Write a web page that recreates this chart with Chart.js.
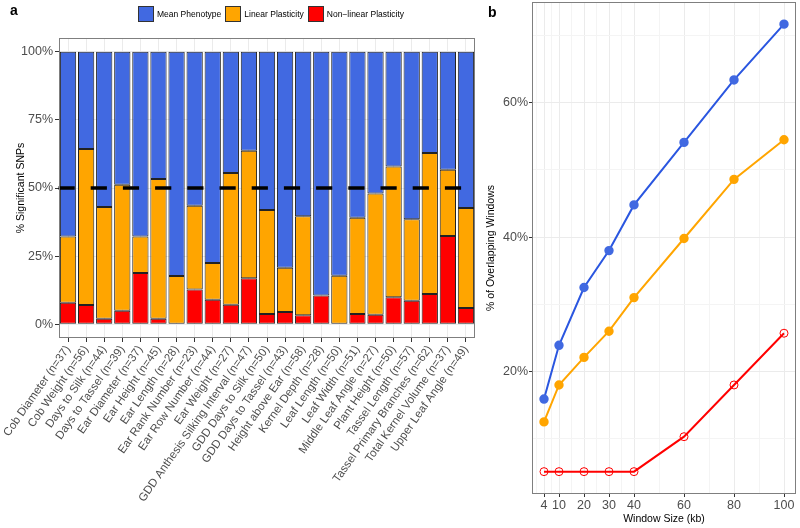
<!DOCTYPE html>
<html>
<head>
<meta charset="utf-8">
<script src="https://cdn.jsdelivr.net/npm/chart.js@4"></script>
<style>
  body { margin: 0; background: #fff; font-family: "Liberation Sans", Arial, sans-serif; }
  #wrap { position: relative; width: 800px; height: 528px; }
  canvas { position: absolute; top: 0; }
  #cA { left: 0; }
  #cB { left: 480px; }
  .tag { position: absolute; font-weight: bold; font-size: 14px; color: #000; }
  #legend { position: absolute; left: 138px; top: 6px; display: flex; align-items: center; font-size: 8.5px; color: #000; }
  #legend span.box { display: inline-block; width: 14px; height: 14px; border: 1px solid #333; margin-right: 3px; }
  #legend span.lab { margin-right: 4px; }
</style>
</head>
<body>
<div id="wrap">
  <canvas id="cA" width="480" height="528"></canvas>
  <canvas id="cB" width="320" height="528"></canvas>
  <div class="tag" style="left:10px; top:2px;">a</div>
  <div class="tag" style="left:488px; top:4px;">b</div>
  <div id="legend"></div>
</div>
<script>
// ── panel a data ──
const traits = [
  'Cob Diameter (n=37)', 'Cob Weight (n=56)', 'Days to Silk (n=44)', 'Days to Tassel (n=39)',
  'Ear Diameter (n=37)', 'Ear Height (n=45)', 'Ear Length (n=28)', 'Ear Rank Number (n=23)',
  'Ear Row Number (n=44)', 'Ear Weight (n=27)', 'GDD Anthesis Silking Interval (n=47)',
  'GDD Days to Silk (n=50)', 'GDD Days to Tassel (n=43)', 'Height above Ear (n=58)',
  'Kernel Depth (n=28)', 'Leaf Length (n=50)', 'Leaf Width (n=51)', 'Middle Leaf Angle (n=27)',
  'Plant Height (n=50)', 'Tassel Length (n=57)', 'Tassel Primary Branches (n=62)',
  'Total Kernel Volume (n=37)', 'Upper Leaf Angle (n=49)'
];
const nonlinearPct = [7.9, 7.1, 2.1, 5.0, 18.8, 2.1, 0, 12.8, 9.0, 7.2, 16.9, 3.8, 4.5, 3.3, 10.6, 0, 3.8, 3.5, 9.9, 8.7, 11.1, 32.4, 6.0];
const linearPct = [24.3, 57.2, 40.9, 46.2, 13.4, 51.2, 17.7, 30.7, 13.5, 48.3, 46.8, 38.1, 16.3, 36.3, 0, 17.8, 35.3, 44.5, 48.0, 29.8, 51.7, 24.3, 36.7];
const meanPct = [67.8, 35.7, 57.0, 48.8, 67.8, 46.7, 82.3, 56.5, 77.5, 44.5, 36.3, 58.1, 79.2, 60.4, 89.4, 82.2, 60.9, 52.0, 42.1, 61.5, 37.2, 43.3, 57.3];
const yTicksA = [0, 25, 50, 75, 100];
const refLine = 50;

// ── panel b data ──
const windowKb = [4, 10, 20, 30, 40, 60, 80, 100];
const meanOverlap = [15.9, 23.9, 32.5, 38.0, 44.8, 54.1, 63.4, 71.7];
const linearOverlap = [12.5, 18.0, 22.1, 26.0, 31.0, 39.8, 48.6, 54.5];
const nonlinearOverlap = [5.1, 5.1, 5.1, 5.1, 5.1, 10.3, 18.0, 25.7];
const xMajorB = [4, 10, 20, 30, 40, 60, 80, 100];
const xMinorB = [1, 7, 15, 25, 35, 50, 70, 90];
const yMajorB = [20, 40, 60];
const yMinorB = [10, 30, 50, 70];

const BLUE = '#4169E1', ORANGE = '#FFA500', RED = '#FF0000';
const series = [['Mean Phenotype', BLUE], ['Linear Plasticity', ORANGE], ['Non\u2212linear Plasticity', RED]];

Chart.defaults.font.family = '"Liberation Sans", Arial, sans-serif';
Chart.defaults.animation = false;

// legend
const lg = document.getElementById('legend');
series.forEach(([name, col]) => {
  lg.insertAdjacentHTML('beforeend', `<span class="box" style="background:${col}"></span><span class="lab">${name}</span>`);
});

// ── plugins ──
const frame = {
  id: 'frame',
  afterDraw(chart) {
    const { ctx, chartArea: { left, right, top, bottom } } = chart;
    ctx.save();
    ctx.strokeStyle = '#7f7f7f'; ctx.lineWidth = 1;
    ctx.strokeRect(left + 0.5, top + 0.5, right - left - 1, bottom - top - 1);
    ctx.restore();
  }
};

const dashed = {
  id: 'dashed',
  afterDatasetsDraw(chart) {
    const { ctx, chartArea: { left, right }, scales: { y } } = chart;
    const yy = y.getPixelForValue(refLine);
    ctx.save();
    ctx.strokeStyle = '#000'; ctx.lineWidth = 3.5;
    ctx.setLineDash([16.2, 16]);
    ctx.beginPath(); ctx.moveTo(left - 0.5, yy); ctx.lineTo(right, yy); ctx.stroke();
    ctx.restore();
  }
};

// no extra room for edge labels: chart area is set by layout padding
const noPadX = s => { s.paddingLeft = 0; s.paddingRight = 0; };
const noPadY = s => { s.paddingTop = 0; s.paddingBottom = 0; };

// ── panel a ──
new Chart(document.getElementById('cA'), {
  type: 'bar',
  data: {
    labels: traits,
    datasets: [
      { label: series[2][0], data: nonlinearPct, backgroundColor: RED },
      { label: series[1][0], data: linearPct, backgroundColor: ORANGE },
      { label: series[0][0], data: meanPct, backgroundColor: BLUE }
    ].map(d => Object.assign(d, { borderColor: '#222', borderWidth: 1, borderSkipped: false, categoryPercentage: 0.9, barPercentage: 1 }))
  },
  options: {
    responsive: false,
    layout: { padding: { top: 38, right: 5, left: 0, bottom: 0 } },
    plugins: { legend: { display: false }, tooltip: { enabled: false } },
    scales: {
      x: {
        stacked: true,
        grid: { offset: false, color: '#ebebeb', tickLength: 4, tickColor: '#333' },
        border: { display: false },
        ticks: { autoSkip: false, minRotation: 55, maxRotation: 55, color: '#4d4d4d', font: { size: 11.5 }, padding: 1 },
        afterFit: s => { s.height = 190; noPadX(s); }
      },
      y: {
        stacked: true, min: -5, max: 105,
        afterBuildTicks: s => { s.ticks = yTicksA.map(v => ({ value: v })); },
        grid: { color: '#ebebeb', tickLength: 4, tickColor: '#333' },
        border: { display: false },
        ticks: { callback: v => v + '%', color: '#4d4d4d', font: { size: 12.5 }, padding: 2 },
        title: { display: true, text: '% Significant SNPs', color: '#000', font: { size: 10.5 }, padding: { top: 15, bottom: 0 } },
        afterFit: s => { s.width = 59; noPadY(s); }
      }
    }
  },
  plugins: [dashed, frame]
});

// ── panel b ──
const pts = arr => windowKb.map((x, i) => ({ x, y: arr[i] }));
new Chart(document.getElementById('cB'), {
  type: 'line',
  data: {
    datasets: [
      { data: pts(meanOverlap), borderColor: '#2A56E0', backgroundColor: BLUE, pointBorderColor: BLUE, pointRadius: 3.7, borderWidth: 2 },
      { data: pts(linearOverlap), borderColor: ORANGE, backgroundColor: ORANGE, pointBorderColor: ORANGE, pointRadius: 3.7, borderWidth: 2 },
      { data: pts(nonlinearOverlap), borderColor: RED, backgroundColor: 'rgba(0,0,0,0)', pointBorderColor: RED, pointBorderWidth: 1, pointRadius: 4, borderWidth: 2 }
    ]
  },
  options: {
    responsive: false,
    layout: { autoPadding: false, padding: { top: 2, right: 4, left: 0, bottom: 0 } },
    plugins: { legend: { display: false }, tooltip: { enabled: false } },
    scales: {
      x: {
        type: 'linear', min: -0.8, max: 104.8,
        afterBuildTicks: s => { s.ticks = xMajorB.concat(xMinorB).sort((a, b) => a - b).map(v => ({ value: v })); },
        grid: {
          color: c => xMajorB.includes(c.tick.value) ? '#ebebeb' : '#f4f4f4',
          tickLength: 3,
          tickColor: c => xMajorB.includes(c.tick.value) ? '#333' : 'rgba(0,0,0,0)'
        },
        border: { display: false },
        ticks: { autoSkip: false, maxRotation: 0, callback: v => xMajorB.includes(v) ? String(v) : '', color: '#4d4d4d', font: { size: 12.5 }, padding: 1 },
        title: { display: true, text: 'Window Size (kb)', color: '#000', font: { size: 10.5 }, padding: { top: 0, bottom: 3 } },
        afterFit: s => { s.height = 34; noPadX(s); }
      },
      y: {
        min: 1.77, max: 75,
        afterBuildTicks: s => { s.ticks = yMajorB.concat(yMinorB).sort((a, b) => a - b).map(v => ({ value: v })); },
        grid: {
          color: c => yMajorB.includes(c.tick.value) ? '#ebebeb' : '#f4f4f4',
          tickLength: 3,
          tickColor: c => yMajorB.includes(c.tick.value) ? '#333' : 'rgba(0,0,0,0)'
        },
        border: { display: false },
        ticks: { callback: v => yMajorB.includes(v) ? v + '%' : '', color: '#4d4d4d', font: { size: 12.5 }, padding: 1 },
        title: { display: true, text: '% of Overlapping Windows', color: '#000', font: { size: 10.5 }, padding: { top: 5, bottom: 0 } },
        afterFit: s => { s.width = 52; noPadY(s); }
      }
    }
  },
  plugins: [frame]
});
</script>
</body>
</html>
